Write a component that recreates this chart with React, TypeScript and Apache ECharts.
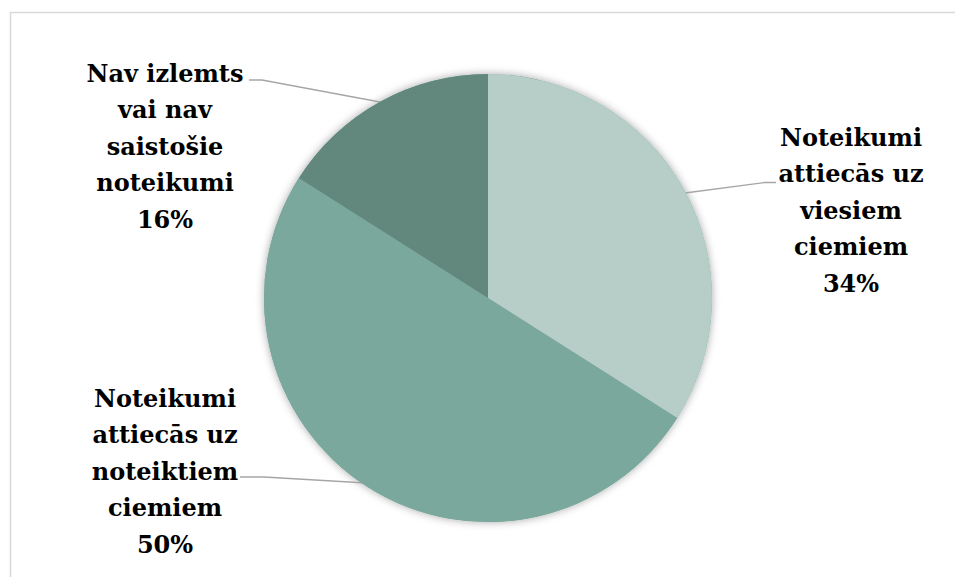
import React, { useEffect, useRef } from "react";
import * as echarts from "echarts";

const categories = [
  "Noteikumi\nattiecās uz\nviesiem\nciemiem",
  "Noteikumi\nattiecās uz\nnoteiktiem\nciemiem",
  "Nav izlemts\nvai nav\nsaistošie\nnoteikumi",
];
const values = [34, 50, 16];
const colors = ["#b7cdc7", "#7ba89c", "#62877d"];

export default function App() {
  const ref = useRef<HTMLDivElement>(null);
  useEffect(() => {
    if (!ref.current) return;
    const chart = echarts.init(ref.current, undefined, { renderer: "svg" });
    const data = categories.map((name, i) => ({
      name,
      value: values[i],
      itemStyle: { color: colors[i] },
    }));
    const labelPos = [
      { x: 851, y: 210, line: [[685, 193], [765, 182.5], [776, 182.5]] },
      { x: 165, y: 471, line: [[366, 483], [264, 477], [240, 477]] },
      { x: 165, y: 146, line: [[380, 102], [262, 80], [249, 80]] },
    ];
    chart.setOption({
      animation: false,
      backgroundColor: "#ffffff",
      graphic: [
        {
          type: "rect",
          left: 8,
          top: 10,
          shape: { width: 1000, height: 700 },
          style: { fill: "none", stroke: "#d9d9d9", lineWidth: 1.5 },
          silent: true,
        },
      ],
      series: [
        {
          type: "pie",
          center: [488, 298],
          radius: 224,
          startAngle: 90,
          clockwise: true,
          silent: true,
          z: 1,
          label: { show: false },
          labelLine: { show: false },
          itemStyle: {
            color: "#7ba89c",
            shadowBlur: 8,
            shadowColor: "rgba(0,0,0,0.35)",
          },
          data: values.map((v) => ({ value: v })),
        },
        {
          type: "pie",
          center: [488, 298],
          radius: 224,
          startAngle: 90,
          clockwise: true,
          z: 2,
          data,
          label: {
            show: true,
            formatter: (p: any) => `${p.name}\n${p.value}%`,
            fontFamily: "DejaVu Serif",
            fontWeight: "bold",
            fontSize: 24,
            lineHeight: 36.5,
            color: "#000000",
            align: "center",
          },
          labelLine: {
            show: true,
            lineStyle: { color: "#a6a6a6", width: 1.3 },
          },
          labelLayout: (params: any) => {
            const p = labelPos[params.dataIndex];
            return {
              x: p.x,
              y: p.y,
              align: "center",
              verticalAlign: "middle",
              labelLinePoints: p.line,
            };
          },
        },
      ],
    });
    return () => chart.dispose();
  }, []);
  return (
    <div
      ref={ref}
      style={{ position: "fixed", left: 0, top: 0, width: 955, height: 577 }}
    />
  );
}
